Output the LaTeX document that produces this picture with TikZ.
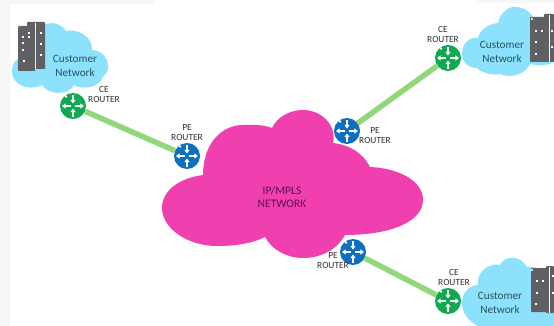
\documentclass[tikz,border=0pt]{standalone}
\usepackage{fontspec}
\setmainfont{Carlito}
\usetikzlibrary{arrows.meta}
\definecolor{pagegrey}{HTML}{F6F6F6}
\definecolor{skycloud}{HTML}{8CE2FC}
\definecolor{pinkcloud}{HTML}{F03FAE}
\definecolor{cegreen}{HTML}{0FA94F}
\definecolor{peblue}{HTML}{0F6FBF}
\definecolor{linkgreen}{HTML}{92D87A}
\definecolor{towergrey}{HTML}{606064}
\definecolor{custtext}{HTML}{2C4F60}
\definecolor{routertext}{HTML}{303030}
\definecolor{coretext}{HTML}{5A1050}
\tikzset{
  x=1pt,y=-1pt,
  routernode/.style 2 args={circle,fill=#1,minimum size=26pt,inner sep=0pt,
    path picture={
      \begin{scope}[shift={(path picture bounding box.center)},rotate=#2,
          draw=white,line width=1.3pt,-{Triangle[width=5pt,length=3.6pt]}]
        \draw (0,-11) -- (0,-2.5);
        \draw (0,11) -- (0,2.5);
        \draw (-2,0) -- (-11,0);
        \draw (2,0) -- (11,0);
        \fill[white] (-7,-9.5) circle (1.3pt);
      \end{scope}}},
  link/.style={draw=linkgreen,line width=5.5pt},
  routerlabel/.style={font=\fontsize{9.4}{10}\selectfont,text=routertext,align=center,inner sep=0pt},
  custlabel/.style={font=\fontsize{11.2}{14}\selectfont,text=custtext,align=center,inner sep=0pt},
  corelabel/.style={font=\fontsize{11.5}{13.5}\selectfont,text=coretext,align=center,inner sep=0pt},
  tower/.style={fill=towergrey,rounded corners=0.8pt},
}
\begin{document}
\begin{tikzpicture}
\useasboundingbox (0,0) rectangle (554,326);
\fill[white] (0,0) rectangle (554,326);
\fill[pagegrey] (0,0) rectangle (10,326);
\fill[pagegrey] (0,0) rectangle (155,4);
\fill[pagegrey] (477,0) rectangle (554,3);

% core cloud
\fill[pinkcloud] (203,175)
  .. controls (180,178) and (162,190) .. (162,208)
  .. controls (162,228) and (187,246) .. (217,246)
  .. controls (237,246) and (253,243) .. (265,237)
  .. controls (272,250) and (287,258) .. (303,258)
  .. controls (323,258) and (338,248) .. (345,235)
  .. controls (390,235) and (423,222) .. (423,200)
  .. controls (423,180) and (397,168) .. (370,167)
  .. controls (363,153) and (350,145) .. (333,143)
  .. controls (337,127) and (323,110) .. (303,110)
  .. controls (290,110) and (277,117) .. (272,128)
  .. controls (262,124) and (250,125) .. (243,125)
  .. controls (222,125) and (203,143) .. (203,175) -- cycle;
\node[corelabel] (core) at (282,197) {IP/MPLS\\NETWORK};

% customer cloud left
\fill[skycloud] (40,28)
  .. controls (47,22) and (58,20) .. (66,31)
  .. controls (76,28) and (93,36) .. (92,50)
  .. controls (106,50) and (114,68) .. (103,77)
  .. controls (99,88) and (82,90) .. (74,85)
  .. controls (68,96) and (48,95) .. (42,85)
  .. controls (28,92) and (12,84) .. (12,72)
  .. controls (12,62) and (18,58) .. (22,56)
  .. controls (20,44) and (30,32) .. (40,28) -- cycle;
\fill[tower] (27,22) rectangle (45,69);
\fill[white] (35,23) rectangle (36.2,69);
\fill[tower] (18,26) rectangle (35,71);
\foreach \p in {(23,37),(29,37),(23,43),(29,33),(23,50),(24,61),(41,33),(41,44),(41,55)}{
  \fill[white] \p ++(-1,-1) rectangle ++(2,2);
}
\fill[white!20!towergrey] (20,27) circle (1pt);
\node[custlabel] (c1) at (75,66) {Customer\\Network};

% customer cloud top right
\fill[skycloud] (462,53)
  .. controls (462,44) and (470,36) .. (478,38)
  .. controls (480,30) and (488,24) .. (498,23)
  .. controls (500,12) and (510,6) .. (515,7)
  .. controls (526,7) and (532,14) .. (534,20)
  .. controls (543,20) and (550,30) .. (554,30)
  -- (554,62)
  .. controls (546,66) and (540,66) .. (530,64)
  .. controls (526,74) and (510,79) .. (500,74)
  .. controls (492,76) and (480,72) .. (477,68)
  .. controls (468,68) and (462,62) .. (462,53) -- cycle;
\fill[tower] (544,14) rectangle (554,62);
\fill[white] (549,15) rectangle (550.2,62);
\fill[tower] (530,17) rectangle (548,62);
\foreach \p in {(536,31),(542,31),(536,42),(536,54),(552,31),(552,47)}{
  \fill[white] \p ++(-1,-1) rectangle ++(2,2);
}
\fill[white] (532,19) circle (1.2pt);
\node[custlabel] (c2) at (502,52) {Customer\\Network};

% customer cloud bottom right
\fill[skycloud] (462,303)
  .. controls (462,292) and (470,285) .. (478,285)
  .. controls (476,272) and (490,262) .. (500,265)
  .. controls (505,255) and (520,255) .. (527,267)
  .. controls (536,266) and (546,270) .. (554,280)
  -- (554,326) -- (478,326)
  .. controls (470,322) and (462,314) .. (462,303) -- cycle;
\fill[tower] (546,266) rectangle (554,313);
\fill[white] (549,267) rectangle (550.2,313);
\fill[tower] (531,268) rectangle (548,312);
\foreach \p in {(537,281),(543,281),(537,293),(536,304),(553,276),(553,293)}{
  \fill[white] \p ++(-1,-1) rectangle ++(2,2);
}
\fill[white] (532,270) circle (1.2pt);
\node[custlabel] (c3) at (500,302.5) {Customer\\Network};

% routers
\node[routernode={cegreen}{0}] (ce1) at (73,106) {};
\node[routernode={peblue}{0}] (pe1) at (187,156) {};
\node[routernode={peblue}{0}] (pe2) at (347,131) {};
\node[routernode={cegreen}{0}] (ce2) at (448,58) {};
\node[routernode={peblue}{-20}] (pe3) at (353,252) {};
\node[routernode={cegreen}{0}] (ce3) at (448,301) {};

% links
\draw[link] (ce1) -- (pe1);
\draw[link] (pe2) -- (ce2);
\draw[link] (pe3) -- (ce3);

% router labels
\node[routerlabel] (lce1) at (104,94) {CE\\ROUTER};
\node[routerlabel] (lpe1) at (187,133) {PE\\ROUTER};
\node[routerlabel] (lpe2) at (375,136) {PE\\ROUTER};
\node[routerlabel] (lce2) at (443,34) {CE\\ROUTER};
\node[routerlabel] (lpe3) at (333,261) {PE\\ROUTER};
\node[routerlabel] (lce3) at (454,277) {CE\\ROUTER};
\end{tikzpicture}
\end{document}
